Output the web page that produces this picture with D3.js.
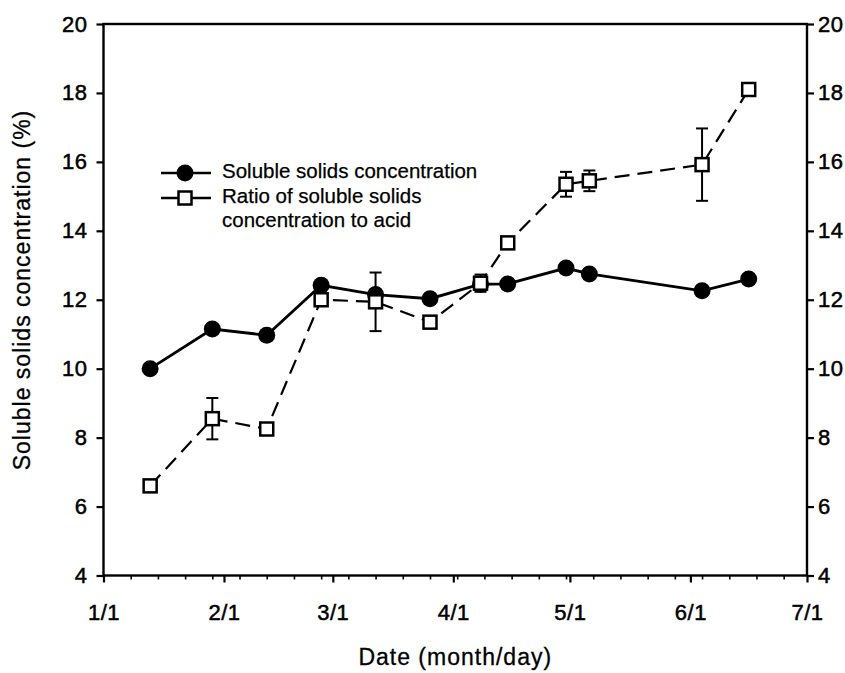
<!DOCTYPE html>
<html><head><meta charset="utf-8">
<script src="https://cdn.jsdelivr.net/npm/d3@7"></script>
<style>
html,body{margin:0;padding:0;background:#fff;}
svg{display:block;}
text{font-family:"Liberation Sans",Arial,sans-serif;fill:#000;}
</style></head>
<body>
<svg id="c" width="845" height="673"></svg>
<script>
// ---- data ----
const dates = ["2001-01-13","2001-01-29","2001-02-12","2001-02-26","2001-03-12","2001-03-26","2001-04-08","2001-04-15","2001-04-30","2001-05-06","2001-06-04","2001-06-16"];
const ssc = [10.0, 11.15, 10.97, 12.42, 12.15, 12.03, 12.45, 12.46, 12.92, 12.75, 12.26, 12.6];
const ratio = [6.6, 8.55, 8.25, 12.0, 11.94, 11.35, 12.48, 13.65, 15.35, 15.45, 15.92, 18.1];
const ratioErr = [0, 0.6, 0, 0, 0.85, 0, 0.25, 0, 0.36, 0.3, 1.05, 0];
const xTickLabels = ["1/1","2/1","3/1","4/1","5/1","6/1","7/1"];
const yTicks = [4,6,8,10,12,14,16,18,20];
const legendLabels = ["Soluble solids concentration", ["Ratio of soluble solids","concentration to acid"]];

const parse = d3.timeParse("%Y-%m-%d");
const svg = d3.select("#c");
const L = 103.5, R = 807, T = 24, B = 575.5;
const FONT = "Liberation Sans, Arial, sans-serif";

const x = d3.scaleTime().domain([parse("2001-01-01"), parse("2001-07-01")]).range([L, R]);
const y = d3.scaleLinear().domain([4,20]).range([B, T]);
const y2 = d3.scaleLinear().domain([4,20]).range([B, T]);

const majorTicks = d3.timeMonth.range(parse("2001-01-01"), d3.timeDay.offset(parse("2001-07-01"),1));
const minorTicks = d3.timeDay.range(parse("2001-01-01"), parse("2001-07-01")).filter((d,i)=>i%7===0);

function styleText(g, size){
  g.selectAll("text").attr("font-size",size).attr("font-family",FONT).attr("fill","#000")
   .attr("stroke","#000").attr("stroke-width",0.5).attr("letter-spacing",0.5);
}

// frame
svg.append("rect").attr("x",L).attr("y",T).attr("width",R-L).attr("height",B-T)
  .attr("fill","none").attr("stroke","#000").attr("stroke-width",2.4);

// x axis: weekly minor ticks
svg.append("g").attr("transform",`translate(0,${B})`)
  .call(d3.axisBottom(x).tickValues(minorTicks).tickSize(4).tickFormat(""))
  .call(g=>g.select(".domain").remove())
  .call(g=>g.selectAll("line").attr("stroke-width",1.6));
// x axis: monthly major ticks
svg.append("g").attr("transform",`translate(0,${B})`)
  .call(d3.axisBottom(x).tickValues(majorTicks).tickSize(7).tickPadding(22).tickFormat((d,i)=>xTickLabels[i]))
  .call(g=>g.select(".domain").remove())
  .call(g=>g.selectAll("line").attr("stroke-width",2.2))
  .call(g=>styleText(g,22));

// left axis
svg.append("g").attr("transform",`translate(${L},0)`)
  .call(d3.axisLeft(y).tickValues(yTicks).tickSize(7).tickPadding(9))
  .call(g=>g.select(".domain").remove())
  .call(g=>g.selectAll("line").attr("stroke-width",2.2))
  .call(g=>styleText(g,22));

// right axis
svg.append("g").attr("transform",`translate(${R},0)`)
  .call(d3.axisRight(y2).tickValues(yTicks).tickSize(7).tickPadding(4))
  .call(g=>g.select(".domain").remove())
  .call(g=>g.selectAll("line").attr("stroke-width",2.2))
  .call(g=>styleText(g,22));

// axis titles
svg.append("text").attr("transform",`translate(24,${290}) rotate(-90)`)
  .attr("text-anchor","middle").attr("dominant-baseline","middle").attr("font-size",23)
  .attr("letter-spacing",1).attr("stroke","#000").attr("stroke-width",0.3)
  .text("Soluble solids concentration (%)");
svg.append("text").attr("x",(L+R)/2).attr("y",659).attr("text-anchor","middle")
  .attr("dominant-baseline","middle").attr("font-size",23).attr("letter-spacing",1)
  .attr("stroke","#000").attr("stroke-width",0.3).text("Date (month/day)");

const pts = dates.map((d,i)=>({d:parse(d), s:ssc[i], r:ratio[i], e:ratioErr[i]}));

// error bars (ratio)
const eb = svg.append("g").attr("stroke","#000").attr("stroke-width",2);
pts.filter(p=>p.e>0).forEach(p=>{
  const cx = x(p.d);
  eb.append("line").attr("x1",cx).attr("x2",cx).attr("y1",y2(p.r+p.e)).attr("y2",y2(p.r-p.e));
  eb.append("line").attr("x1",cx-6).attr("x2",cx+6).attr("y1",y2(p.r+p.e)).attr("y2",y2(p.r+p.e));
  eb.append("line").attr("x1",cx-6).attr("x2",cx+6).attr("y1",y2(p.r-p.e)).attr("y2",y2(p.r-p.e));
});

// lines
svg.append("path").datum(pts).attr("fill","none").attr("stroke","#000").attr("stroke-width",2.2)
  .attr("stroke-dasharray","15,8")
  .attr("d", d3.line().x(p=>x(p.d)).y(p=>y2(p.r)));
svg.append("path").datum(pts).attr("fill","none").attr("stroke","#000").attr("stroke-width",2.8)
  .attr("d", d3.line().x(p=>x(p.d)).y(p=>y(p.s)));

// markers
svg.append("g").selectAll("circle").data(pts).join("circle")
  .attr("cx",p=>x(p.d)).attr("cy",p=>y(p.s)).attr("r",8.5).attr("fill","#000");
svg.append("g").selectAll("rect").data(pts).join("rect")
  .attr("x",p=>x(p.d)-6.5).attr("y",p=>y2(p.r)-6.5).attr("width",13).attr("height",13)
  .attr("fill","#fff").attr("stroke","#000").attr("stroke-width",2.5);

// legend
const lg = svg.append("g");
lg.append("line").attr("x1",161).attr("x2",211).attr("y1",173).attr("y2",173).attr("stroke","#000").attr("stroke-width",2.6);
lg.append("circle").attr("cx",185).attr("cy",173).attr("r",8.5).attr("fill","#000");
lg.append("line").attr("x1",161).attr("x2",211).attr("y1",198).attr("y2",198).attr("stroke","#000").attr("stroke-width",2.6);
lg.append("rect").attr("x",178.5).attr("y",191.5).attr("width",13).attr("height",13).attr("fill","#fff").attr("stroke","#000").attr("stroke-width",2.5);
const lt = [[legendLabels[0],173],[legendLabels[1][0],198],[legendLabels[1][1],222]];
lt.forEach(([t,yy])=>{
  lg.append("text").attr("x",222).attr("y",yy).attr("dominant-baseline","middle")
    .attr("font-size",20.5).attr("stroke","#000").attr("stroke-width",0.25).text(t);
});
</script>
</body></html>
